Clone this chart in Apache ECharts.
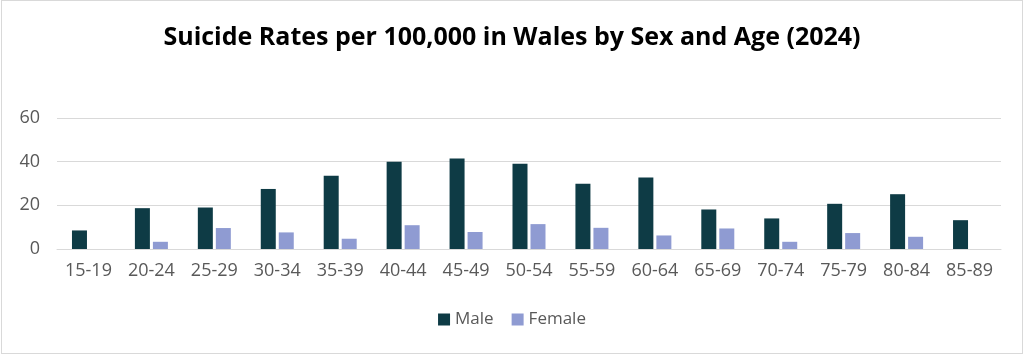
<!DOCTYPE html>
<html>
<head>
<meta charset="utf-8">
<script src="https://cdn.jsdelivr.net/npm/echarts@6/dist/echarts.min.js"></script>
<style>
  html, body { margin: 0; padding: 0; background: #fff; }
  #chart { position: absolute; left: 1px; top: 0; width: 1020px; height: 352px; border: 1px solid #d9d9d9; }
</style>
</head>
<body>
<div id="chart"></div>
<script>
// age groups and rates per 100,000
const ageGroups = ['15-19', '20-24', '25-29', '30-34', '35-39', '40-44', '45-49', '50-54',
  '55-59', '60-64', '65-69', '70-74', '75-79', '80-84', '85-89'];
const maleRates = [8.5, 18.7, 19.0, 27.5, 33.6, 40.0, 41.5, 39.1, 29.9, 32.7, 18.1, 14.0, 20.7, 25.1, 13.2];
const femaleRates = [null, 3.3, 9.6, 7.6, 4.7, 10.9, 7.8, 11.4, 9.7, 6.2, 9.4, 3.3, 7.3, 5.6, null];
const yTicks = [0, 20, 40, 60];

let myChart = echarts.init(document.getElementById('chart'));

let fontFam = '"Open Sans", "Liberation Sans", sans-serif';

let option = {
  animation: false,
  color: ['#0e3b45', '#8f9bd2'],
  title: {
    text: 'Suicide Rates per 100,000 in Wales by Sex and Age (2024)',
    left: 'center',
    top: 19,
    textStyle: { fontFamily: fontFam, fontSize: 25, fontWeight: 'bold', color: '#000' }
  },
  legend: {
    bottom: 20,
    left: 'center',
    itemWidth: 12,
    itemHeight: 12,
    itemGap: 18,
    icon: 'rect',
    textStyle: { fontFamily: fontFam, fontSize: 17, color: '#595959' },
    data: ['Male', 'Female']
  },
  grid: { left: 55, right: 21, top: 117, bottom: 104 },
  xAxis: {
    type: 'category',
    data: ageGroups,
    axisLine: { lineStyle: { color: '#d9d9d9', width: 1 } },
    axisTick: { show: false },
    axisLabel: { fontFamily: fontFam, fontSize: 18, color: '#595959', margin: 13 }
  },
  yAxis: {
    type: 'value',
    min: yTicks[0],
    max: yTicks[yTicks.length - 1],
    interval: 20,
    axisLine: { show: false },
    axisTick: { show: false },
    splitLine: { lineStyle: { color: '#d9d9d9', width: 1 } },
    axisLabel: { fontFamily: fontFam, fontSize: 18, color: '#595959', margin: 17 }
  },
  series: [
    { name: 'Male', type: 'bar', data: maleRates, barWidth: 15, barGap: '20%' },
    { name: 'Female', type: 'bar', data: femaleRates, barWidth: 15, barGap: '20%' }
  ]
};

myChart.setOption(option);
</script>
</body>
</html>
